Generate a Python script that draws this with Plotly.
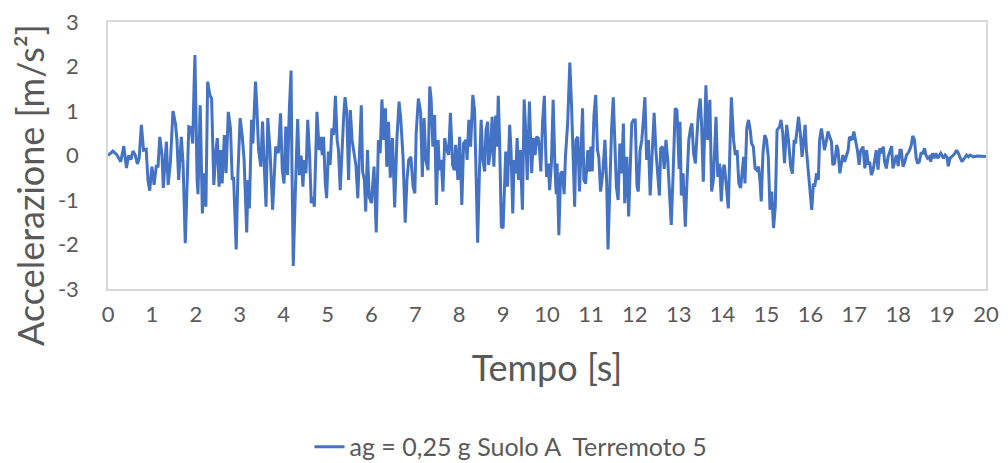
import plotly.graph_objects as go

# Time [s]
tempo = [
    0.00, 0.11, 0.20, 0.29, 0.36, 0.42, 0.47, 0.52, 0.57, 0.62, 0.67, 0.71, 0.76, 0.81, 0.87, 0.91, 0.95,
    1.00, 1.05, 1.10, 1.14, 1.18, 1.23, 1.26, 1.33, 1.37, 1.42, 1.48, 1.54, 1.57, 1.61, 1.67, 1.71, 1.76,
    1.81, 1.84, 1.89, 1.93, 1.96, 1.98, 2.03, 2.05, 2.10, 2.15, 2.19, 2.23, 2.27, 2.32, 2.36, 2.41, 2.46,
    2.49, 2.53, 2.57, 2.60, 2.65, 2.69, 2.74, 2.79, 2.83, 2.86, 2.92, 2.96, 3.01, 3.06, 3.10, 3.16, 3.19,
    3.22, 3.27, 3.30, 3.33, 3.36, 3.39, 3.43, 3.48, 3.52, 3.56, 3.60, 3.64, 3.69, 3.75, 3.82, 3.88, 3.93,
    3.97, 4.01, 4.05, 4.09, 4.13, 4.17, 4.19, 4.22, 4.27, 4.32, 4.36, 4.40, 4.44, 4.47, 4.51, 4.55, 4.59,
    4.63, 4.67, 4.70, 4.76, 4.81, 4.84, 4.88, 4.91, 4.95, 4.98, 5.02, 5.06, 5.10, 5.14, 5.18, 5.22, 5.25,
    5.29, 5.33, 5.37, 5.40, 5.44, 5.48, 5.52, 5.56, 5.60, 5.65, 5.69, 5.73, 5.77, 5.80, 5.84, 5.87, 5.91,
    5.95, 6.00, 6.06, 6.11, 6.16, 6.20, 6.24, 6.28, 6.32, 6.35, 6.39, 6.43, 6.48, 6.53, 6.58, 6.63, 6.67,
    6.72, 6.77, 6.81, 6.85, 6.90, 6.95, 6.99, 7.02, 7.07, 7.12, 7.16, 7.20, 7.24, 7.29, 7.33, 7.36, 7.40,
    7.44, 7.48, 7.52, 7.55, 7.59, 7.63, 7.67, 7.72, 7.76, 7.80, 7.85, 7.89, 7.92, 7.97, 8.01, 8.06, 8.10,
    8.15, 8.18, 8.22, 8.26, 8.31, 8.35, 8.38, 8.42, 8.46, 8.50, 8.54, 8.58, 8.61, 8.65, 8.67, 8.71, 8.75,
    8.79, 8.83, 8.86, 8.89, 8.92, 8.96, 9.00, 9.06, 9.10, 9.15, 9.18, 9.22, 9.25, 9.29, 9.32, 9.35, 9.39,
    9.44, 9.48, 9.51, 9.55, 9.60, 9.62, 9.65, 9.69, 9.73, 9.76, 9.80, 9.83, 9.86, 9.90, 9.94, 9.97, 9.99,
    10.03, 10.06, 10.10, 10.14, 10.18, 10.21, 10.23, 10.27, 10.31, 10.35, 10.39, 10.42, 10.47, 10.52,
    10.56, 10.59, 10.63, 10.66, 10.70, 10.74, 10.77, 10.81, 10.84, 10.88, 10.93, 10.96, 11.00, 11.03,
    11.07, 11.11, 11.15, 11.18, 11.22, 11.27, 11.32, 11.36, 11.39, 11.44, 11.47, 11.51, 11.55, 11.58,
    11.62, 11.66, 11.70, 11.74, 11.77, 11.82, 11.86, 11.89, 11.93, 11.97, 12.01, 12.05, 12.08, 12.12,
    12.16, 12.20, 12.23, 12.27, 12.31, 12.35, 12.39, 12.44, 12.48, 12.52, 12.56, 12.59, 12.63, 12.67,
    12.71, 12.75, 12.79, 12.83, 12.87, 12.92, 12.96, 12.98, 13.01, 13.03, 13.06, 13.10, 13.15, 13.19,
    13.23, 13.27, 13.30, 13.34, 13.38, 13.41, 13.45, 13.49, 13.52, 13.56, 13.59, 13.62, 13.66, 13.69,
    13.71, 13.75, 13.79, 13.85, 13.89, 13.93, 13.97, 14.01, 14.04, 14.08, 14.13, 14.17, 14.20, 14.25,
    14.29, 14.33, 14.37, 14.41, 14.45, 14.48, 14.51, 14.55, 14.59, 14.63, 14.66, 14.70, 14.74, 14.78,
    14.82, 14.85, 14.88, 14.92, 14.96, 15.00, 15.04, 15.08, 15.12, 15.16, 15.20, 15.24, 15.30, 15.33,
    15.37, 15.41, 15.46, 15.50, 15.55, 15.59, 15.63, 15.66, 15.70, 15.73, 15.77, 15.81, 15.84, 15.88,
    15.91, 15.95, 15.99, 16.03, 16.07, 16.10, 16.14, 16.18, 16.21, 16.25, 16.29, 16.32, 16.36, 16.40,
    16.44, 16.48, 16.51, 16.55, 16.60, 16.63, 16.67, 16.70, 16.74, 16.78, 16.82, 16.86, 16.89, 16.95,
    16.99, 17.03, 17.07, 17.11, 17.14, 17.20, 17.24, 17.28, 17.32, 17.35, 17.39, 17.43, 17.47, 17.50,
    17.54, 17.58, 17.62, 17.66, 17.69, 17.73, 17.77, 17.81, 17.85, 17.88, 17.92, 17.96, 18.00, 18.04,
    18.07, 18.11, 18.15, 18.19, 18.22, 18.26, 18.30, 18.33, 18.37, 18.41, 18.44, 18.48, 18.52, 18.56,
    18.60, 18.63, 18.67, 18.71, 18.74, 18.78, 18.82, 18.86, 18.90, 18.94, 18.97, 19.03, 19.07, 19.11,
    19.14, 19.18, 19.22, 19.26, 19.29, 19.33, 19.37, 19.41, 19.45, 19.48, 19.52, 19.56, 19.60, 19.64,
    19.71, 19.79, 20.00,
]

# Acceleration [m/s^2]
accelerazione = [
    0.00, 0.10, 0.02, -0.14, 0.21, -0.28, 0.00, -0.09, 0.10, 0.01, -0.19, -0.06, 0.69, 0.12, 0.14, -0.55, -0.79,
    -0.25, -0.66, -0.24, -0.24, 0.42, 0.01, -0.73, 0.31, -0.66, -0.18, 1.00, 0.69, 0.35, -0.55, 0.42, -0.18, -1.97,
    -0.40, 0.65, 0.63, 0.27, 1.55, 2.26, -0.55, -0.87, 1.13, -1.30, -0.40, -1.15, 1.66, 1.36, 1.28, -0.66, 0.12,
    0.39, -0.70, 0.12, -0.63, 0.46, -0.40, 0.98, 0.61, -0.55, -0.48, -2.11, -0.40, 0.84, 0.42, -0.10, -1.73, -0.55,
    -1.19, 0.80, 0.27, 1.10, 1.66, 1.10, 0.12, -0.25, 0.76, -0.25, -1.15, 0.84, 0.12, -1.22, 0.20, 0.05, 0.95,
    -0.33, -0.63, 0.65, -0.44, 1.02, 1.91, -0.25, -2.48, -0.74, 0.82, -0.44, 0.00, -0.70, -0.10, -0.40, 0.80, 0.05,
    -1.07, -0.93, -1.15, 0.98, 0.12, 0.42, 0.01, 0.42, -0.63, -0.96, 0.09, -0.21, 0.61, 0.46, 1.34, 0.35, 0.12,
    -0.78, 0.20, 0.91, 1.31, 0.95, -0.55, 1.02, 0.35, 0.12, -0.25, -0.96, 0.12, 1.13, -0.36, -0.55, -1.26, 0.12,
    -0.93, -1.07, -0.25, -1.73, 0.35, 0.05, 1.26, 0.35, 1.06, -0.25, 0.76, -0.50, 0.39, -1.17, 0.35, 1.21, 0.80,
    -0.03, -1.51, -0.55, -0.10, -0.03, -0.70, -0.85, 0.50, 1.28, 0.98, -0.48, 0.84, -0.10, -0.33, 1.55, 1.28, 0.20,
    0.91, -1.11, 0.35, -0.33, -0.10, -0.81, 0.39, 0.12, 0.01, 0.96, -0.22, -0.33, 0.24, -0.55, 0.42, -1.11, 0.27,
    0.35, -0.10, 0.80, 0.20, 1.36, 1.02, -0.03, -1.96, -0.40, 0.80, -0.10, -0.36, 0.57, 0.76, -0.21, 0.07, 0.87,
    -0.25, 0.90, 0.20, 1.34, 0.35, -1.60, -1.63, 0.09, -0.70, 0.69, 0.12, -1.30, -0.10, -0.40, 0.39, -0.55, 0.12,
    -1.22, 1.26, 0.65, -0.55, 1.21, 0.35, -0.40, 0.39, 0.01, 0.42, 0.39, 0.12, -0.36, 0.76, 1.34, 0.12, -0.48,
    -0.18, -0.78, -0.18, 1.25, -0.25, -0.87, -0.18, -1.79, -0.40, -0.36, -0.87, -0.03, 0.72, 2.09,
    1.10, 0.20, -1.15, 0.35, 0.42, -0.81, 0.12, 1.06, -0.55, -0.63, 0.12, -0.36, 0.20, -0.36,
    0.90, 1.36, 0.12, -0.03, -0.81, -0.40, 0.35, -0.63, -2.11, -0.40, 0.57, 1.31, 0.12, -0.70,
    -1.00, 0.27, -0.40, 0.72, -1.07, -0.03, -1.37, -0.25, 0.72, 0.80, 0.80, -0.70, -0.81, 0.12,
    0.35, 0.87, 1.31, -0.10, 0.35, -0.90, -0.10, 0.96, 0.12, -0.36, -0.90, 0.16, 0.20, -0.30,
    0.35, -0.10, -0.90, -1.56, -0.50, 1.06, 1.02, 0.40, -0.30, 0.76, -0.90, -0.40, -1.60, -0.55,
    0.35, 0.61, 0.72, 0.05, -0.18, 0.35, 0.98, 1.28, 0.72, -0.59, 0.72, 1.58, 0.35, 0.80,
    1.25, -0.81, -0.55, 0.87, -0.48, -0.18, -1.03, -0.29, -0.21, -0.63, -1.19, 0.27, 1.31, 0.35,
    0.01, 0.12, -0.63, -0.73, -0.25, -0.03, -0.63, 0.61, 0.80, 0.57, 0.27, 0.20, -0.29, -0.33,
    -0.25, -0.55, -1.03, 0.05, 0.46, 0.35, -0.03, -1.22, -0.81, -1.63, -1.15, 0.57, 0.65, 0.80,
    0.50, -0.17, 0.69, 0.35, -0.25, -0.41, 0.35, 0.27, 0.61, 0.87, 0.50, -0.03, 0.27, 0.69,
    0.12, -0.33, -0.78, -1.22, -0.63, -0.70, -0.40, -0.55, 0.35, 0.61, 0.35, 0.12, 0.31, 0.54,
    0.42, 0.31, -0.21, -0.18, 0.24, 0.12, -0.40, -0.25, 0.01, -0.14, 0.01, 0.12, 0.42, 0.35,
    0.54, 0.35, 0.12, -0.21, 0.09, 0.20, -0.29, 0.12, -0.21, -0.14, -0.44, -0.32, 0.01, 0.12,
    -0.32, 0.16, 0.05, 0.20, -0.14, -0.29, -0.03, 0.12, 0.21, -0.29, -0.10, 0.01, -0.24, 0.12,
    0.12, -0.25, -0.14, 0.01, 0.05, 0.12, 0.24, 0.44, 0.35, -0.06, -0.18, -0.14, 0.05, 0.05,
    0.16, 0.01, -0.06, -0.03, -0.14, 0.05, -0.06, 0.05, -0.06, 0.01, 0.05, -0.06, 0.01, -0.03,
    -0.24, -0.06, -0.03, 0.01, 0.05, 0.12, 0.05, -0.03, -0.14, -0.10, -0.03, 0.01, -0.03, 0.01,
    -0.03, -0.01, -0.02,
]

series_name = "ag = 0,25 g Suolo A  Terremoto 5"
x_title = "Tempo [s]"
y_title = "Accelerazione [m/s²]"
x_ticks = list(range(0, 21))
y_ticks = [-3, -2, -1, 0, 1, 2, 3]

FONT = "Lato, 'Open Sans', sans-serif"
TXT = "#595959"
BORDER = "#d9d9d9"

fig = go.Figure()
fig.add_trace(go.Scatter(
    x=tempo, y=accelerazione, mode="lines", name=series_name,
    line=dict(color="#4472C4", width=3),
))

fig.add_annotation(
    text=y_title, textangle=-90, xref="paper", yref="paper",
    x=-0.0888, y=0.39, xanchor="center", yanchor="middle", showarrow=False,
    font=dict(size=36, color=TXT, family=FONT),
)

fig.update_layout(
    width=1008, height=463,
    paper_bgcolor="white", plot_bgcolor="white",
    margin=dict(l=100, r=30, t=14, b=182, autoexpand=False),
    font=dict(family=FONT, color=TXT),
    showlegend=True,
    legend=dict(orientation="h", xref="container", yref="container",
                x=0.499, xanchor="center", y=0.052, yanchor="middle",
                font=dict(size=25, color=TXT, family=FONT)),
    xaxis=dict(
        range=[0, 20], tickvals=x_ticks, ticktext=[str(v) for v in x_ticks],
        showgrid=False, zeroline=False, showline=True, linecolor=BORDER, linewidth=1.5, mirror=True,
        ticks="", ticklabelstandoff=5, ticklabeloverflow="allow",
        tickfont=dict(size=22, color=TXT, family=FONT),
        automargin=False,
        title=dict(text=x_title, font=dict(size=36, color=TXT, family=FONT), standoff=30),
    ),
    yaxis=dict(
        range=[-3, 3], tickvals=y_ticks, ticktext=[str(v) for v in y_ticks],
        showgrid=False, zeroline=False, showline=True, linecolor=BORDER, linewidth=1.5, mirror=True,
        ticks="", ticklabelstandoff=23, ticklabeloverflow="allow",
        tickfont=dict(size=22, color=TXT, family=FONT),
        automargin=False,
    ),
)

fig.write_html("out.html")
